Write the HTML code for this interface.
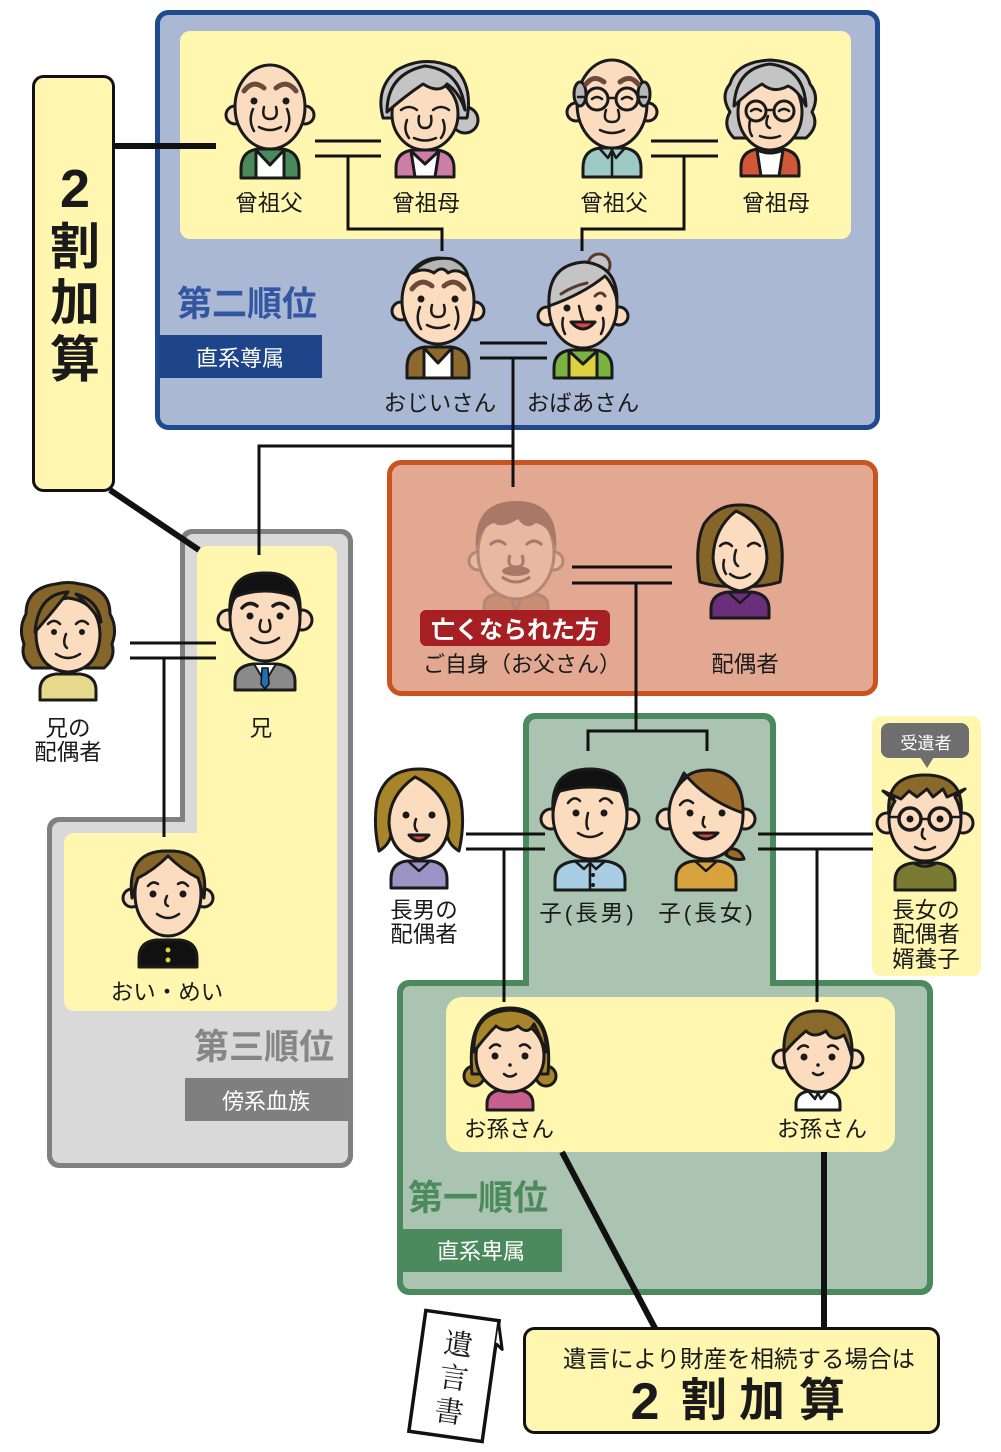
<!DOCTYPE html>
<html><head><meta charset="utf-8">
<style>
html,body{margin:0;padding:0;background:#fff;}
svg{display:block;}
text{font-family:"Liberation Sans","Noto Sans CJK JP",sans-serif;fill:#1a1a1a;}
.s{stroke:#1a1a1a;stroke-width:3;stroke-linejoin:round;}
.sk{fill:#fbdcbe;}
.l{fill:none;stroke:#1a1a1a;stroke-width:2.5;stroke-linecap:round;stroke-linejoin:round;}
.g{fill:none;stroke:#1a1a1a;stroke-width:3;}
.e{fill:#1a1a1a;}
.c{fill:none;stroke:#111;stroke-width:3;}
.t{fill:none;stroke:#111;stroke-width:6;}
.lb{font-size:22.5px;text-anchor:middle;}
.hd{font-size:35px;font-weight:bold;}
.bd{font-size:22px;text-anchor:middle;fill:#fff;}
</style></head><body>
<svg width="1001" height="1452" viewBox="0 0 1001 1452" xmlns="http://www.w3.org/2000/svg">
<!-- Blue box -->
<rect x="157.5" y="12.5" width="720" height="415" rx="11" fill="#abb8d4" stroke="#1f4a8e" stroke-width="5"/>
<rect x="180" y="31" width="671" height="208" rx="10" fill="#fff6b0"/>
<rect x="159" y="335" width="163" height="43" fill="#1e4589"/>
<text x="177" y="316" class="hd" style="fill:#3356a0">第二順位</text>
<text x="240" y="366" class="bd">直系尊属</text>

<!-- Left 2割加算 box -->
<rect x="33.5" y="76.5" width="80" height="414" rx="10" fill="#fff6b0" stroke="#111" stroke-width="3"/>
<text x="75" y="207" style="font-size:54px;font-weight:bold;text-anchor:middle;">2</text>
<text x="75" y="264" style="font-size:50px;font-weight:bold;text-anchor:middle;">割</text>
<text x="75" y="320" style="font-size:50px;font-weight:bold;text-anchor:middle;">加</text>
<text x="75" y="377" style="font-size:50px;font-weight:bold;text-anchor:middle;">算</text>

<!-- Orange box -->
<rect x="389.5" y="462.5" width="486" height="231" rx="12" fill="#e2a891" stroke="#c9541f" stroke-width="5"/>

<!-- Gray shape -->
<rect x="180" y="529" width="173" height="500" rx="12" fill="#808080"/>
<rect x="47" y="817" width="306" height="351" rx="12" fill="#808080"/>
<rect x="185" y="534" width="163" height="495" rx="8" fill="#d9d9d9"/>
<rect x="52" y="822" width="296" height="341" rx="8" fill="#d9d9d9"/>
<rect x="197" y="546" width="140" height="465" rx="10" fill="#fff6b0"/>
<rect x="64" y="833" width="273" height="178" rx="10" fill="#fff6b0"/>
<rect x="185" y="1078" width="163" height="43" fill="#7f7f7f"/>
<text x="264" y="1059" class="hd" style="fill:#868686;text-anchor:middle">第三順位</text>
<text x="266" y="1109" class="bd">傍系血族</text>

<!-- Green shape -->
<rect x="523" y="713" width="253" height="280" rx="12" fill="#4b8a5c"/>
<rect x="397" y="980" width="536" height="315" rx="12" fill="#4b8a5c"/>
<rect x="529" y="719" width="241" height="274" rx="7" fill="#abc4b1"/>
<rect x="403" y="986" width="524" height="303" rx="7" fill="#abc4b1"/>
<rect x="446" y="997" width="449" height="155" rx="16" fill="#fff6b0"/>
<rect x="401" y="1229" width="161" height="43" fill="#4b8a5c"/>
<text x="408" y="1210" class="hd" style="fill:#4b8a5c">第一順位</text>
<text x="481" y="1259" class="bd">直系卑属</text>

<!-- 長女の配偶者 yellow -->
<rect x="872" y="716" width="109" height="260" rx="9" fill="#fff6b0"/>
<rect x="881" y="723" width="88" height="35" rx="8" fill="#6e6e6e"/>
<path d="M920,757H934L927,768Z" fill="#6e6e6e"/>
<text x="926" y="749" style="font-size:17px;text-anchor:middle;fill:#fff">受遺者</text>

<!-- Connectors -->
<path class="t" d="M114,146H216"/>
<path class="t" d="M110,490L199,550"/>
<path class="c" d="M315,141H381M315,156H381M348,156V229H442V251"/>
<path class="c" d="M651,141H718M651,156H718M684,156V229H582V251"/>
<path class="c" d="M480,343H547M480,358H547M513,358V487"/>
<path class="c" d="M513,446H259V555"/>
<path class="c" d="M572,567H672M572,583H672M636,583V731"/>
<path class="c" d="M588,751V731H707V751"/>
<path class="c" d="M130,643H216M130,658H216M164,658V837"/>
<path class="c" d="M466,834H545M466,849H545M504,849V1002"/>
<path class="c" d="M758,834H873M758,849H873M817,849V1002"/>
<path class="t" d="M562,1152L656,1330"/>
<path class="t" d="M824,1152V1330"/>

<!-- Bottom box -->
<rect x="524.5" y="1328.5" width="414" height="104" rx="10" fill="#fff6b0" stroke="#111" stroke-width="3"/>
<text x="739" y="1367" style="font-size:23.5px;text-anchor:middle;">遺言により財産を相続する場合は</text>
<text x="645" y="1419" style="font-size:52px;font-weight:bold;text-anchor:middle;">2</text>
<text x="704" y="1416" style="font-size:46px;font-weight:bold;text-anchor:middle;">割</text>
<text x="762" y="1416" style="font-size:46px;font-weight:bold;text-anchor:middle;">加</text>
<text x="822" y="1416" style="font-size:46px;font-weight:bold;text-anchor:middle;">算</text>

<!-- 遺言書 -->
<g transform="translate(454,1376) rotate(8)">
<rect x="-37" y="-61" width="74" height="122" fill="#fff" stroke="#111" stroke-width="3.5"/>
<path d="M37,-58L44,-33L37,-38" fill="#fff" stroke="#111" stroke-width="3" stroke-linejoin="round"/>
<text x="0" y="-22" style="font-family:'Liberation Serif','Noto Serif CJK SC',serif;font-size:29px;text-anchor:middle;">遺</text>
<text x="0" y="12" style="font-family:'Liberation Serif','Noto Serif CJK SC',serif;font-size:29px;text-anchor:middle;">言</text>
<text x="0" y="46" style="font-family:'Liberation Serif','Noto Serif CJK SC',serif;font-size:29px;text-anchor:middle;">書</text>
</g>

<!-- ===== People ===== -->
<!-- P1 曾祖父 -->
<g transform="translate(270,107)">
<path class="s" fill="#4a8a5a" d="M-29,71V62Q-29,44-12,42H12Q29,44 29,62V71Z"/>
<path class="s" fill="#fff" d="M-14,43L0,58L14,43V71H-14Z"/>
<circle class="s sk" cx="-35" cy="8" r="9"/><circle class="s sk" cx="35" cy="8" r="9"/>
<ellipse class="s sk" rx="35" ry="42"/>
<path d="M-26,-16Q-17,-28-6,-19M26,-16Q17,-28 6,-19" fill="none" stroke="#6b4a3a" stroke-width="5" stroke-linecap="round"/>
<circle class="e" cx="-16" cy="-6" r="3.5"/><circle class="e" cx="16" cy="-6" r="3.5"/>
<path class="l" d="M-6,0Q-9,12 0,12Q9,12 6,0M-11,20Q0,26 11,20M-17,2Q-22,14-16,24M17,2Q22,14 16,24"/>
</g>
<!-- P2 曾祖母 -->
<g transform="translate(425,110)">
<path class="s" fill="#cc7ea6" d="M-29,67V58Q-29,42-12,40H12Q29,42 29,58V67Z"/>
<path class="s" fill="#fff" d="M-14,41L0,54L14,41L10,67H-10Z"/>
<circle class="s" fill="#c4c4c4" cx="40" cy="10" r="13"/>
<path class="s" fill="#c4c4c4" d="M-42,8Q-50,-22-28,-40Q0,-56 30,-42Q48,-24 42,8Z"/>
<ellipse class="s sk" cy="4" rx="33" ry="36"/>
<path class="s" fill="#c4c4c4" d="M-38,2Q-38,-36 0,-44Q36,-40 40,0Q34,-18 22,-26Q14,-16-2,-26Q-20,-14-38,2Z"/>
<path class="l" d="M-24,0Q-16,-6-8,0M24,0Q16,-6 8,0M-6,6Q-8,18 0,18Q8,18 6,6M-11,28Q0,33 11,28M-18,10Q-22,20-16,28M18,10Q22,20 16,28"/>
</g>
<!-- P3 曾祖父 (glasses) -->
<g transform="translate(612,104)">
<path class="s" fill="#9dcac4" d="M-29,73V64Q-29,46-12,44H12Q29,46 29,64V73Z"/>
<path class="l" d="M-12,45L-4,54L0,46L4,54L12,45M0,46V73"/>
<circle class="s sk" cx="-36" cy="8" r="9"/><circle class="s sk" cx="36" cy="8" r="9"/>
<ellipse class="s sk" rx="35" ry="44"/>
<ellipse class="s" fill="#b8b8b8" cx="-32" cy="-10" rx="6" ry="12"/>
<ellipse class="s" fill="#b8b8b8" cx="32" cy="-10" rx="6" ry="12"/>
<path d="M-26,-20Q-18,-30-8,-22M26,-20Q18,-30 8,-22" fill="none" stroke="#6b4a3a" stroke-width="5" stroke-linecap="round"/>
<circle class="g" cx="-15" cy="-5" r="11"/><circle class="g" cx="15" cy="-5" r="11"/>
<path class="l" d="M-4,-6H4M-26,-7H-34M26,-7H34M-20,-5Q-15,-9-10,-5M20,-5Q15,-9 10,-5M-6,6Q-10,18 0,18Q10,18 6,6M-12,26Q0,32 12,26"/>
</g>
<!-- P4 曾祖母 (glasses) -->
<g transform="translate(770,108)">
<path class="s" fill="#d2563a" d="M-29,68V59Q-29,43-12,41H12Q29,43 29,59V68Z"/>
<path class="s" fill="#fff" d="M-13,42Q0,48 13,42L9,68H-9Z"/>
<path class="s" fill="#c4c4c4" d="M-36,30Q-48,18-40,4Q-50,-12-40,-24Q-34,-46 0,-48Q34,-46 40,-24Q50,-12 42,4Q50,18 36,30Z"/>
<ellipse class="s sk" cy="4" rx="32" ry="38"/>
<path class="s" fill="#c4c4c4" d="M-36,-2Q-34,-40 0,-44Q34,-40 36,-2Q28,-18 18,-22Q4,-14-8,-24Q-22,-16-36,-2Z"/>
<circle class="g" cx="-14" cy="3" r="10"/><circle class="g" cx="14" cy="3" r="10"/>
<path class="l" d="M-4,2H4M-19,3Q-14,-1-9,3M19,3Q14,-1 9,3M-2,8Q-6,18 0,20M-10,28Q0,32 10,28M-20,12Q-22,22-18,28"/>
</g>
<!-- P5 おじいさん -->
<g transform="translate(438,301)">
<path class="s" fill="#8c6a2f" d="M-31,77V66Q-31,48-13,46H13Q31,48 31,66V77Z"/>
<path class="s" fill="#fff" d="M-14,47L0,62L14,47V77H-14Z"/>
<circle class="s sk" cx="-37" cy="10" r="9"/><circle class="s sk" cx="37" cy="10" r="9"/>
<ellipse class="s sk" rx="36" ry="43"/>
<path class="s" fill="#b4b4b4" d="M-26,-28Q-10,-46 14,-42Q28,-36 30,-24Q20,-34 10,-28Q4,-36-4,-28Q-14,-34-26,-28Z"/>
<path d="M-26,-12Q-17,-24-6,-15M26,-12Q17,-24 6,-15" fill="none" stroke="#6b4a3a" stroke-width="5" stroke-linecap="round"/>
<circle class="e" cx="-17" cy="-2" r="3.5"/><circle class="e" cx="17" cy="-2" r="3.5"/>
<path class="l" d="M-6,4Q-9,16 0,16Q9,16 6,4M-11,24Q0,30 11,24M-18,6Q-23,18-17,28M18,6Q23,18 17,28"/>
</g>
<!-- P6 おばあさん -->
<g transform="translate(583,306)">
<path class="s" fill="#7ab23f" d="M-29,72V62Q-29,46-12,44H12Q29,46 29,62V72Z"/>
<path class="s" fill="#ddd23e" d="M-14,45L0,58L14,45V72H-14Z"/>
<circle fill="#c4c4c4" stroke="#5a3a2a" stroke-width="3" cx="16" cy="-41" r="11"/>
<circle class="s sk" cx="-36" cy="10" r="9"/><circle class="s sk" cx="36" cy="10" r="9"/>
<ellipse class="s sk" rx="34" ry="42"/>
<path class="s" fill="#c4c4c4" d="M-34,0Q-36,-42 2,-44Q34,-40 34,-6Q30,-22 22,-30Q0,-12-34,0Z"/>
<path d="M-22,-12Q-10,-20 4,-23M12,-10Q18,-16 22,-10" fill="none" stroke="#5a3a2a" stroke-width="3" stroke-linecap="round"/>
<circle class="e" cx="-16" cy="2" r="3.5"/><circle class="e" cx="16" cy="2" r="3.5"/>
<path class="l" d="M-4,0Q-2,10 0,14M-20,12Q-22,20-18,28M20,12Q22,20 18,28"/>
<path class="s" fill="#d84848" d="M-12,16Q0,30 12,16Z"/>
</g>
<!-- P7 deceased (faded) -->
<g transform="translate(516,553)" stroke="#b58676" stroke-width="3" stroke-linejoin="round">
<path fill="#c98e72" d="M-32,62V52Q-32,42-14,40H14Q32,42 32,52V62Z"/>
<path fill="none" d="M-6,41L0,60L6,41"/>
<circle fill="#e8b8a0" cx="-38" cy="8" r="9"/><circle fill="#e8b8a0" cx="38" cy="8" r="9"/>
<ellipse fill="#e8b8a0" rx="38" ry="46"/>
<path fill="#a97866" stroke="none" d="M-40,-2Q-44,-52 0,-52Q44,-52 40,-2Q36,-26 20,-30Q10,-22 2,-34Q-14,-24-22,-30Q-36,-26-40,-2Z"/>
<path fill="none" stroke="#a97866" d="M-26,-8Q-18,-16-10,-8M26,-8Q18,-16 10,-8M-6,2Q-10,14 0,14Q10,14 6,2M-14,24Q0,34 14,24"/>
<ellipse fill="#a97866" stroke="none" cx="0" cy="18" rx="14" ry="5"/>
</g>
<!-- P8 配偶者 -->
<g transform="translate(740,548)">
<path class="s" fill="#6b2e7b" d="M-29,70V61Q-29,46-12,44H12Q29,46 29,61V70Z"/>
<path class="l" d="M-11,45L0,55L11,45"/>
<path class="s" fill="#86652a" d="M-40,34Q-46,-2-36,-24Q-22,-44 0,-43Q22,-44 36,-24Q46,-2 40,34Q20,40 0,38Q-20,40-40,34Z"/>
<path class="s sk" d="M-27,10Q-26,-20-4,-37Q26,-24 27,10Q25,38 0,43Q-25,38-27,10Z"/>
<path class="l" d="M-20,-2Q-14,-8-8,-2M20,-2Q14,-8 8,-2M-4,2Q-8,14-2,18M-10,26Q0,34 10,26M-16,12Q-18,20-14,26"/>
</g>
<!-- P9 兄 -->
<g transform="translate(265,618)">
<path class="s" fill="#8a8a8a" d="M-30,72V63Q-30,48-12,46H12Q30,48 30,63V72Z"/>
<path fill="#fff" stroke="#1a1a1a" stroke-width="2" d="M-11,46L0,64L11,46Z"/>
<path fill="#1f6fb5" stroke="#111" stroke-width="1.5" d="M-3,50H3L4,66L0,71L-4,66Z"/>
<circle class="s sk" cx="-37" cy="2" r="10"/><circle class="s sk" cx="37" cy="2" r="10"/>
<ellipse class="s sk" rx="35" ry="43"/>
<path class="s" fill="#111" d="M-35,-2Q-38,-46 0,-45Q38,-46 35,-2Q34,-18 28,-22Q0,-32-28,-22Q-34,-18-35,-2Z"/>
<path class="l" style="stroke-width:3.5" d="M-23,-10Q-16,-18-8,-12M23,-10Q16,-18 8,-12"/>
<circle class="e" cx="-15" cy="-2" r="3.5"/><circle class="e" cx="15" cy="-2" r="3.5"/>
<path class="l" d="M-4,2Q-8,14 0,14Q8,14 4,2M-14,20Q0,30 14,20"/>
</g>
<!-- P10 兄の配偶者 -->
<g transform="translate(68,628)">
<path class="s" fill="#e6d98c" d="M-28,72V62Q-28,48-12,46H12Q28,48 28,62V72Z"/>
<path class="s" fill="#86652a" d="M-36,40Q-48,30-44,16Q-50,0-42,-14Q-42,-40-12,-44Q0,-47 12,-44Q42,-40 42,-14Q50,0 44,16Q48,30 36,40Z"/>
<path class="s sk" d="M-32,8Q-32,-26 0,-30Q32,-26 32,8Q30,42 0,44Q-30,42-32,8Z"/>
<path class="s" fill="#86652a" d="M-33,4Q-30,-34 0,-36Q-12,-20-33,4Z"/>
<path class="s" fill="#86652a" d="M8,-34Q30,-28 33,-6Q24,-20 8,-34Z"/>
<path class="l" d="M-20,-4Q-14,-10-8,-4M20,-4Q14,-10 8,-4M-2,6Q-6,16-1,20M-12,26Q0,34 12,26"/>
<circle class="e" cx="-14" cy="4" r="3"/><circle class="e" cx="14" cy="4" r="3"/>
</g>
<!-- P11 おい・めい -->
<g transform="translate(168,894)">
<path class="s" fill="#111" d="M-29,73V64Q-29,48-12,46H12Q29,48 29,64V73Z"/>
<circle cx="0" cy="56" r="2.5" fill="#e0d040"/><circle cx="0" cy="66" r="2.5" fill="#e0d040"/>
<circle class="s sk" cx="-36" cy="4" r="9"/><circle class="s sk" cx="36" cy="4" r="9"/>
<ellipse class="s sk" rx="33" ry="42"/>
<path class="s" fill="#86652a" d="M-36,4Q-42,-44 0,-43Q42,-44 36,4Q32,-10 30,-16Q14,-24 0,-38Q-14,-24-30,-16Q-32,-10-36,4Z"/>
<path class="l" d="M-20,-8Q-15,-14-10,-10M20,-8Q15,-14 10,-10M-1,2Q-5,10 0,12M-11,20Q0,28 11,20"/>
<circle class="e" cx="-15" cy="0" r="3.5"/><circle class="e" cx="15" cy="0" r="3.5"/>
</g>
<!-- P12 長男の配偶者 -->
<g transform="translate(419,815)">
<path class="s" fill="#9b93c4" d="M-28,73V64Q-28,48-12,46H12Q28,48 28,64V73Z"/>
<path class="l" d="M-10,47L0,56L10,47"/>
<path class="s" fill="#a8842a" d="M-40,36Q-46,10-42,-14Q-34,-46 0,-46Q34,-46 42,-14Q46,10 40,36Q30,30 28,20L-28,20Q-30,30-40,36Z"/>
<path class="s sk" d="M-30,8Q-30,-20-4,-38Q28,-22 30,8Q28,40 0,44Q-28,40-30,8Z"/>
<circle class="e" cx="-13" cy="0" r="3.5"/><circle class="e" cx="13" cy="0" r="3.5"/>
<path class="l" d="M-3,4Q-6,12-2,16"/>
<path class="s" fill="#d84848" d="M-10,20Q0,32 10,20Z"/>
</g>
<!-- P13 子(長男) -->
<g transform="translate(590,815)">
<path class="s" fill="#a9cde2" d="M-35,75V64Q-35,48-14,46H14Q35,48 35,64V75Z"/>
<path class="l" d="M-14,47L-6,54L0,48L6,54L14,47M0,48V75"/>
<circle class="e" cx="3" cy="60" r="2"/><circle class="e" cx="3" cy="70" r="2"/>
<circle class="s sk" cx="-39" cy="4" r="10"/><circle class="s sk" cx="39" cy="4" r="10"/>
<ellipse class="s sk" rx="37" ry="44"/>
<path class="s" fill="#111" d="M-37,-4Q-40,-46 0,-46Q40,-46 37,-4Q34,-20 30,-24Q0,-32-30,-24Q-34,-20-37,-4Z"/>
<path class="l" d="M-22,-12Q-16,-20-10,-14M22,-12Q16,-20 10,-14M-2,-2Q-5,10-2,14M-12,18Q0,26 12,18"/>
<circle class="e" cx="-14" cy="-2" r="3.5"/><circle class="e" cx="14" cy="-2" r="3.5"/>
</g>
<!-- P14 子(長女) -->
<g transform="translate(706,815)">
<path class="s" fill="#d8a23c" d="M-30,75V64Q-30,48-12,46H12Q30,48 30,64V75Z"/>
<path class="l" d="M-10,47L0,56L10,47"/>
<path class="s" fill="#9c6a2a" d="M22,34Q34,32 38,44Q28,46 20,40Z"/>
<circle class="s sk" cx="-39" cy="4" r="10"/><circle class="s sk" cx="39" cy="4" r="10"/>
<ellipse class="s sk" rx="37" ry="44"/>
<path class="s" fill="#9c6a2a" d="M-32,-22Q-22,-46 4,-45Q38,-42 37,-2Q14,-10-4,-24Q-14,-32-22,-42Z"/>
<path class="l" d="M-26,-10Q-20,-18-13,-12M-2,2Q-5,10-1,12"/>
<circle class="e" cx="-16" cy="-2" r="3.5"/><circle class="e" cx="16" cy="-2" r="3.5"/>
<path class="s" fill="#d84848" d="M-12,18Q0,30 12,18Z"/>
</g>
<!-- P15 長女の配偶者 -->
<g transform="translate(925,819)">
<path class="s" fill="#7b7a33" d="M-30,71V62Q-30,46-12,44H12Q30,46 30,62V71Z"/>
<path class="l" d="M-10,45Q0,50 10,45"/>
<circle class="s sk" cx="-38" cy="4" r="10"/><circle class="s sk" cx="38" cy="4" r="10"/>
<ellipse class="s sk" rx="36" ry="42"/>
<path class="s" fill="#8a6a2a" d="M-36,-4Q-40,-44 0,-44Q40,-44 36,-4Q34,-16 30,-22L40,-30L22,-22L18,-30L8,-22L2,-30L-8,-22L-16,-28L-24,-20L-42,-28L-30,-18Q-34,-12-36,-4Z"/>
<circle class="g" style="stroke-width:3.5" cx="-15" cy="0" r="11"/><circle class="g" style="stroke-width:3.5" cx="15" cy="0" r="11"/>
<path class="l" d="M-4,0H4M-26,-2H-36M26,-2H36M-2,10Q-5,18 0,20M-10,28Q0,34 10,28"/>
<circle class="e" cx="-15" cy="0" r="3.5"/><circle class="e" cx="15" cy="0" r="3.5"/>
</g>
<!-- P16 お孫さん girl -->
<g transform="translate(510,1052)">
<path class="s" fill="#c8608f" d="M-23,58V52Q-23,40-10,38H10Q23,40 23,52V58Z"/>
<circle class="s" fill="#a8842a" cx="-36" cy="24" r="10"/><circle class="s" fill="#a8842a" cx="36" cy="24" r="10"/>
<path class="s" fill="#a8842a" d="M-38,22Q-44,-44 0,-44Q44,-44 38,22Z"/>
<ellipse class="s sk" cy="4" rx="34" ry="36"/>
<path class="s" fill="#a8842a" d="M-36,0Q-38,-40 0,-42Q38,-40 36,0Q30,-16 24,-28Q18,-16 8,-26Q-4,-18-14,-26Q-26,-14-36,0Z"/>
<path class="l" d="M-20,-4Q-15,-10-10,-6M20,-4Q15,-10 10,-6M-6,22Q0,27 6,22"/>
<circle class="e" cx="-15" cy="4" r="3.5"/><circle class="e" cx="15" cy="4" r="3.5"/><circle class="e" cx="0" cy="13" r="1.8"/>
</g>
<!-- P17 お孫さん boy -->
<g transform="translate(818,1053)">
<path class="s" fill="#fff" d="M-22,57V51Q-22,40-9,38H9Q22,40 22,51V57Z"/>
<path class="l" d="M-9,39L-3,46L0,40L3,46L9,39"/>
<circle class="s sk" cx="-36" cy="6" r="9"/><circle class="s sk" cx="36" cy="6" r="9"/>
<ellipse class="s sk" cy="2" rx="34" ry="37"/>
<path class="s" fill="#8a6a2a" d="M-34,0Q-36,-42 0,-42Q36,-42 34,4Q30,-10 26,-18Q14,-10 8,-22Q-4,-14-12,-22Q-24,-12-34,0Z"/>
<path class="l" d="M-20,-4Q-15,-10-10,-6M20,-4Q15,-10 10,-6M-5,20Q0,24 5,20"/>
<circle class="e" cx="-14" cy="4" r="3.5"/><circle class="e" cx="14" cy="4" r="3.5"/><circle class="e" cx="0" cy="12" r="1.8"/>
</g>

<!-- Deceased badge -->
<rect x="420" y="610" width="190" height="36" rx="6" fill="#a61f22"/>
<text x="515" y="638" style="font-size:24px;font-weight:bold;text-anchor:middle;fill:#fff">亡くなられた方</text>

<!-- Labels -->
<text x="269" y="211" class="lb">曾祖父</text>
<text x="426" y="211" class="lb">曾祖母</text>
<text x="614" y="211" class="lb">曾祖父</text>
<text x="776" y="211" class="lb">曾祖母</text>
<text x="440" y="411" class="lb">おじいさん</text>
<text x="583" y="411" class="lb">おばあさん</text>
<text x="522" y="672" class="lb" style="font-size:22px">ご自身（お父さん）</text>
<text x="745" y="672" class="lb">配偶者</text>
<text x="261" y="736" class="lb">兄</text>
<text x="68" y="736" class="lb">兄の</text>
<text x="68" y="760" class="lb">配偶者</text>
<text x="167" y="1000" class="lb">おい・めい</text>
<text x="424" y="918" class="lb">長男の</text>
<text x="424" y="942" class="lb">配偶者</text>
<text x="588" y="921" class="lb" style="letter-spacing:3px">子(長男)</text>
<text x="707" y="921" class="lb" style="letter-spacing:3px">子(長女)</text>
<text x="926" y="918" class="lb">長女の</text>
<text x="926" y="942" class="lb">配偶者</text>
<text x="926" y="967" class="lb">婿養子</text>
<text x="509" y="1137" class="lb">お孫さん</text>
<text x="822" y="1137" class="lb">お孫さん</text>
</svg>
</body></html>
